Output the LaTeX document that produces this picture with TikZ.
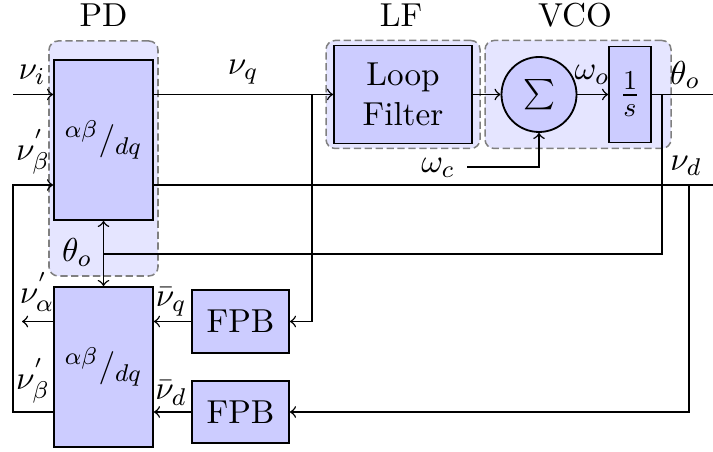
\documentclass[tikz,border=0pt]{standalone}
\begin{document}
\fontsize{10.95}{13.2}\selectfont
\begin{tikzpicture}[x=0.33pt,y=-0.33pt,
  grp/.style={draw=gray,fill=blue!10,dash pattern=on 2.4pt off 1.2pt,rounded corners=3pt,line width=0.5pt,inner sep=0pt},
  blk/.style={draw=black,fill=blue!20,line width=0.6pt,inner sep=0pt,align=center},
  sig/.style={line width=0.5pt},
  lab/.style={inner sep=0pt}]
\useasboundingbox (0,0) rectangle (713,452);
% groups
\node[grp,minimum width=35.97pt,minimum height=77.55pt] (pdg) at (103.5,158.5) {};
\node[grp,minimum width=50.82pt,minimum height=35.64pt] (lfg) at (403,94.5) {};
\node[grp,minimum width=61.38pt,minimum height=35.64pt] (vcog) at (578,94.5) {};
% blocks
\node[blk,minimum width=32.67pt,minimum height=52.8pt] (pd) at (103.5,140) {${}^{\alpha\beta}/_{dq}$};
\node[blk,minimum width=32.67pt,minimum height=52.8pt] (lpd) at (103.5,367) {${}^{\alpha\beta}/_{dq}$};
\node[blk,minimum width=45.54pt,minimum height=32.34pt] (lf) at (403,94.5) {Loop\\Filter};
\node[blk,circle,minimum size=24.75pt] (sum) at (539,94.5) {$\sum$};
\node[blk,minimum width=13.86pt,minimum height=31.68pt] (integ) at (630,94.5) {\fontsize{12.5}{14}\selectfont$\frac{1}{s}$};
\node[blk,minimum width=32.01pt,minimum height=20.79pt] (fpbq) at (240.5,321.5) {FPB};
\node[blk,minimum width=32.01pt,minimum height=20.46pt] (fpbd) at (240.5,412) {FPB};
% titles
\node[lab] (tpd) at (103.5,15) {PD};
\node[lab] (tlf) at (401,15) {LF};
\node[lab] (tvco) at (575,15) {VCO};
% connectors
\coordinate (vi) at (13,94.5);
\draw[sig,->] (vi) -- (vi -| pd.west);
\draw[sig,->] (pd.east |- lf.west) -- (lf.west);
\coordinate (bq) at (312,94.5);
\draw[sig,->] (bq) |- (fpbq.east);
\draw[sig,->] (lf.east) -- (sum.west);
\draw[sig,->] (sum.east) -- (integ.west);
\coordinate (thout) at (713,94.5);
\draw[sig] (integ.east) -- (thout);
\coordinate (tb) at (662,94.5);
\coordinate (th) at (103.5,254);
\draw[sig] (tb) |- (th);
\draw[sig,->] (th) -- (pd.south);
\draw[sig,->] (th) -- (lpd.north);
\coordinate (vdout) at (713,185);
\draw[sig] (pd.east |- vdout) -- (vdout);
\coordinate (bd) at (689,185);
\draw[sig,->] (bd) |- (fpbd.east);
\coordinate (wc) at (467,167);
\draw[sig,->] (wc) -| (sum.south);
\draw[sig,->] (fpbq.west) -- (fpbq.west -| lpd.east);
\draw[sig,->] (fpbd.west) -- (fpbd.west -| lpd.east);
\coordinate (va) at (22,321.5);
\draw[sig,->] (va -| lpd.west) -- (va);
\coordinate (lb) at (13,412);
\draw[sig,->] (lb -| lpd.west) -- (lb) |- (pd.west |- vdout);
% labels
\node[lab] (lvi) at (32,75) {$\nu_i$};
\node[lab] (lvb1) at (33,152) {$\nu^{'}_{\beta}$};
\node[lab] (lvq) at (243,72) {$\nu_q$};
\node[lab] (lth1) at (77,252) {$\theta_o$};
\node[lab] (lwo) at (592,75) {$\omega_o$};
\node[lab] (lth2) at (685,75) {$\theta_o$};
\node[lab] (lwc) at (438,168) {$\omega_c$};
\node[lab] (lvd) at (686,166) {$\nu_d$};
\node[lab] (lva) at (37,292) {$\nu^{'}_{\alpha}$};
\node[lab] (lvb2) at (33,381) {$\nu^{'}_{\beta}$};
\node[lab] (lvqb) at (171,302) {$\bar{\nu}_q$};
\node[lab] (lvdb) at (171,393) {$\bar{\nu}_d$};
\end{tikzpicture}
\end{document}
